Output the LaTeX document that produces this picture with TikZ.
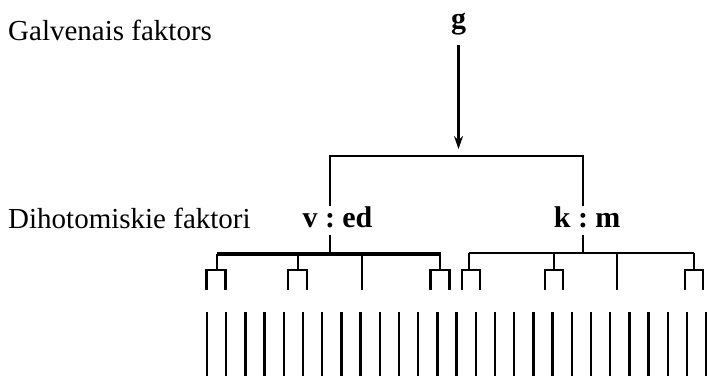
\documentclass[tikz,border=0pt]{standalone}
\usepackage{fontspec}
\setmainfont{Liberation Serif}
\usetikzlibrary{arrows.meta,positioning}

\begin{document}
\begin{tikzpicture}[x=1pt, y=-1pt,
        label/.style={inner sep=0pt, anchor=base west, font=\fontsize{29}{33}\selectfont},
        factor/.style={inner sep=0pt, font=\fontsize{30}{34}\selectfont\bfseries},
        colon/.style={factor, inner ysep=7pt, anchor=base},
        line/.style={line width=2.4pt},
        bar/.style={line width=3.4pt},
        arrow/.style={line width=2.4pt, -{Stealth[length=13pt, width=9pt]}}
    ]
    \useasboundingbox (0,0) rectangle (707,376);

    % Etiquetas
    \node[label] (galv) at (8,40) {Galvenais faktors};
    \node[label] (diho) at (8,228) {Dihotomiskie faktori};

    % Faktori
    \node[factor, anchor=base] (g) at (458.5,28) {g};
    \node[colon] (colL) at (330,227) {:};
    \node[factor, anchor=base east] (v) at ([xshift=-7pt]colL.base west) {v};
    \node[factor, anchor=base west] (ed) at ([xshift=7pt]colL.base east) {ed};
    \node[colon] (colR) at (583,227) {:};
    \node[factor, anchor=base east] (k) at ([xshift=-7pt]colR.base west) {k};
    \node[factor, anchor=base west] (m) at ([xshift=7pt]colR.base east) {m};

    % Bultas un zari
    \coordinate (split) at (458.5,149);
    \draw[arrow, shorten <=10pt] (g) -- (split);
    \draw[line] (colL.north) -- (colL.north |- 0,156) -- (colR.north |- 0,156) -- (colR.north);
    \draw[line] (colL.south) -- (colL.south |- 0,254);
    \draw[line] (colR.south) -- (colR.south |- 0,253);

    % Kreisa puse
    \draw[bar] (217,254) -- (441,254);
    \draw[line] (362,254) -- (362,290);
    \foreach \x/\c in {217/216, 298/297.5, 440/440}
        \draw[line] (\x,254) -- (\x,270) (\c-9.5,290) -- (\c-9.5,270) -- (\c+9.5,270) -- (\c+9.5,290);

    % Laba puse
    \draw[line] (469,253) -- (694,253);
    \draw[line] (617,253) -- (617,290);
    \foreach \x/\c in {469/471, 554/554, 694/694}
        \draw[line] (\x,253) -- (\x,270) (\c-9,290) -- (\c-9,270) -- (\c+9,270) -- (\c+9,290);

    % Apaksas liniju rinda
    \foreach \i in {0,...,26}
        \draw[line] ({207+19.2*\i},312) -- ({207+19.2*\i},376);

\end{tikzpicture}
\end{document}
